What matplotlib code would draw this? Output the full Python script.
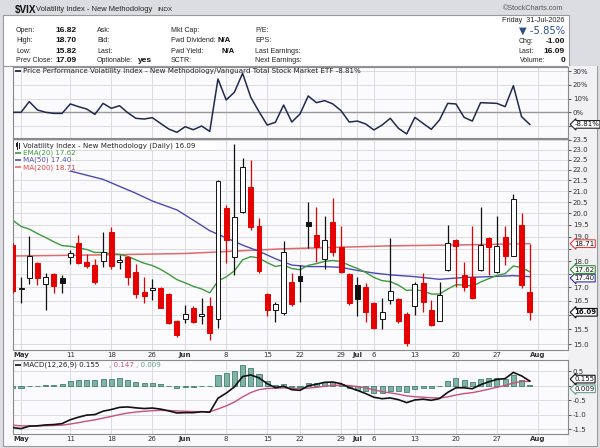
import numpy as np
import matplotlib
matplotlib.use('Agg')
import matplotlib.pyplot as plt
from matplotlib.patches import Rectangle
from matplotlib.lines import Line2D
from matplotlib.ticker import FixedLocator, NullLocator

plt.rcParams['font.family'] = ['DejaVu Sans']

# ---------------- data ----------------
# trading-day index 0 = 30-Apr-2026 ... 63 = 31-Jul-2026
tick_days = [1, 7, 12, 17, 21, 26, 31, 35, 40, 42, 44, 49, 54, 59, 64]
tick_labels = ['May', '11', '18', '26', 'Jun', '8', '15', '22', '29', 'Jul', '6', '13', '20', '27', 'Aug']
month_names = ['May', 'Jun', 'Jul', 'Aug']

opens = [18.66, 16.93, 17.34, 17.92, 17.12, 17.51, 17.34, 18.16, 18.73, 17.96,
         17.85, 18.00, 19.21, 17.97, 18.15, 17.58, 16.81, 16.90, 16.96, 16.75,
         15.79, 15.86, 16.26, 15.97, 16.32, 15.85, 20.25, 18.16, 20.05, 21.21,
         19.45, 16.75, 16.18, 16.06, 17.21, 17.44, 19.61, 19.07, 18.08, 19.64,
         18.59, 17.51, 17.09, 17.02, 16.41, 15.85, 16.53, 16.56, 16.03, 16.32,
         17.17, 16.18, 15.80, 17.66, 18.86, 17.47, 17.40, 17.66, 18.93, 17.59,
         18.97, 18.22, 19.50, 16.82]
highs = [18.75, 17.40, 19.03, 17.98, 17.53, 17.55, 17.47, 18.45, 19.06, 18.30,
         18.10, 19.21, 19.39, 18.24, 18.20, 17.90, 17.40, 17.33, 17.00, 16.80,
         15.82, 16.35, 16.30, 16.59, 16.65, 21.52, 20.37, 23.29, 22.57, 22.49,
         19.80, 16.80, 16.47, 18.80, 17.56, 17.86, 20.52, 20.30, 19.88, 20.67,
         19.43, 17.53, 17.40, 17.16, 16.45, 16.62, 18.93, 16.60, 16.11, 17.21,
         17.56, 16.53, 17.21, 19.50, 18.90, 17.99, 19.43, 20.27, 18.98, 19.88,
         19.46, 20.86, 20.00, 18.70]
lows = [16.80, 16.41, 17.12, 17.10, 16.18, 16.80, 16.78, 17.90, 17.90, 17.75,
        17.12, 17.77, 17.68, 17.68, 17.09, 16.60, 16.41, 16.53, 16.24, 15.68,
        15.23, 15.71, 15.71, 15.67, 15.14, 15.53, 17.92, 17.47, 20.00, 19.30,
        17.56, 15.96, 15.76, 16.00, 16.33, 16.47, 18.52, 17.99, 17.69, 18.22,
        17.55, 16.35, 15.96, 15.76, 15.50, 15.50, 16.40, 15.72, 14.95, 16.00,
        16.11, 15.62, 15.77, 17.60, 17.02, 16.87, 16.55, 17.60, 17.46, 17.55,
        17.86, 18.20, 16.98, 15.82]
closes = [16.86, 16.98, 18.22, 17.34, 17.40, 17.06, 17.17, 18.32, 17.95, 17.83,
          17.21, 18.36, 17.80, 18.05, 17.40, 16.75, 16.66, 16.99, 16.26, 15.71,
          15.31, 16.03, 15.76, 16.04, 15.39, 21.47, 18.86, 19.83, 22.16, 19.40,
          17.62, 16.18, 16.39, 18.39, 16.39, 17.25, 19.43, 18.56, 18.86, 18.35,
          17.59, 16.41, 16.56, 16.11, 15.53, 16.11, 16.86, 15.80, 15.03, 17.12,
          16.47, 15.65, 16.72, 18.72, 18.62, 17.02, 16.59, 18.66, 18.56, 18.62,
          18.19, 20.63, 17.09, 16.09]
prior_close = 18.90

# indicator states on the day before the window
ema20_prior = 19.99
ema12_prior = 19.16
ema26_prior = 20.52
signal_prior = -1.34

ma50_days = [0, 7, 11, 15, 17, 20, 22, 24, 26, 28, 30, 32, 34, 36, 38, 40, 42, 44, 46, 49, 52, 55, 58, 61, 63]
ma50_vals = [22.60, 21.95, 21.55, 20.90, 20.55, 20.15, 19.70, 19.25, 18.95, 18.65, 18.40, 18.10, 17.85,
             17.79, 17.79, 17.76, 17.64, 17.54, 17.47, 17.40, 17.30, 17.37, 17.40, 17.44, 17.40]
ma200_days = [0, 10, 21, 33, 46, 55, 63]
ma200_vals = [18.21, 18.25, 18.31, 18.50, 18.62, 18.66, 18.71]

rel_perf = [0.0, 0.0, 7.8, 1.7, 0.0, -0.8, -0.8, 6.1, 4.1, 2.4,
            -1.5, 6.5, 2.9, 4.8, -0.3, -4.4, -4.9, -3.9, -8.1, -12.2,
            -14.6, -10.5, -12.7, -10.0, -13.9, 24.3, 9.0, 14.6, 28.4, 10.9,
            0.5, -9.3, -7.3, 5.3, -7.1, -1.2, 11.9, 7.0, 8.5, 6.1,
            1.2, -7.1, -6.4, -8.5, -12.9, -9.3, -4.4, -11.7, -15.8, -3.7,
            -8.1, -12.4, -5.6, 6.5, 6.1, -3.7, -6.4, 7.0, 6.8, 6.5,
            4.1, 19.4, -3.2, -8.81]

price_ticks = [15.0, 15.5, 16.0, 16.5, 17.0, 17.5, 18.0, 18.5, 19.0, 19.5,
               20.0, 20.5, 21.0, 21.5, 22.0, 22.5, 23.0, 23.5]
price_tick_labels = ['15.0', '15.5', '', '16.5', '17.0', '', '18.0', '', '19.0', '19.5',
                     '20.0', '20.5', '21.0', '21.5', '22.0', '22.5', '23.0', '23.5']
rel_ticks = [-10, 0, 10, 20, 30]
rel_tick_labels = ['', '0%', '10%', '20%', '30%']
macd_ticks = [-1.5, -1.0, -0.5, 0.0, 0.5]
macd_tick_labels = ['-1.5', '-1.0', '-0.5', '', '0.5']

# ---------------- derived indicators ----------------
def ema(values, prior, n):
    a = 2.0 / (n + 1)
    out, e = [], prior
    for v in values:
        e = e + a * (v - e)
        out.append(e)
    return np.array(out)

c = np.array(closes)
ema20 = ema(c, ema20_prior, 20)
macd = ema(c, ema12_prior, 12) - ema(c, ema26_prior, 26)
signal = ema(macd, signal_prior, 9)
hist = macd - signal
days = np.arange(len(closes))

# ---------------- figure ----------------
W, H = 600, 448
fig = plt.figure(figsize=(6.0, 4.48), dpi=100, facecolor='#dcdde2')

def R(x0, y0, x1, y1, z=-10, **kw):
    fig.patches.append(Rectangle((x0 / W, 1 - y1 / H), (x1 - x0) / W, (y1 - y0) / H,
                                 transform=fig.transFigure, zorder=z, **kw))

def T(x, y, s, **kw):
    kw.setdefault('va', 'center')
    return fig.text(x / W, 1 - y / H, s, **kw)

def L(x0, x1, y, color, lw=1.2):
    fig.add_artist(Line2D([x0 / W, x1 / W], [1 - y / H, 1 - y / H], color=color, lw=lw,
                          transform=fig.transFigure, zorder=6, solid_capstyle='butt'))

# backgrounds
R(3, 15, 569, 66, fc='white', ec='#9a9a9a', lw=0.8)
R(3, 66, 597, 446, fc='#f9f9fb', ec='#9a9a9a', lw=0.8)
R(568, 66, 597, 446, fc='#f1f1f4', ec='none')

hf = ['Liberation Sans', 'DejaVu Sans']
# header
T(15, 9.5, '$VIX', fontsize=7.2, fontweight='bold', family=hf, color='#111')
T(36, 9.5, 'Volatility Index - New Methodology', fontsize=5.4, family=hf, color='#222')
T(157, 9.5, 'INDX', fontsize=4.6, family=hf, color='#222')
T(503, 8.5, '\u00a9StockCharts.com', fontsize=5.2, family=hf, color='#555')

rows = [30.5, 41, 51.2, 61]
hs = 5.0
col1 = [('Open:', '16.82'), ('High:', '18.70'), ('Low:', '15.82'), ('Prev Close:', '17.09')]
for (lab, val), y in zip(col1, rows):
    T(16, y, lab, fontsize=hs, family=hf, color='#222')
    T(55, y, val, fontsize=6.0, fontweight='bold', family=hf, color='#111')
for lab, y in zip(['Ask:', 'Bid:', 'Last:', 'Optionable:'], rows):
    T(97, y, lab, fontsize=hs, family=hf, color='#222')
T(138, rows[3], 'yes', fontsize=6.0, fontweight='bold', family=hf, color='#111')
for lab, y in zip(['Mkt Cap:', 'Fwd Dividend:', 'Fwd Yield:', 'SCTR:'], rows):
    T(171, y, lab, fontsize=hs, family=hf, color='#222')
T(217, rows[1], 'N/A', fontsize=5.6, fontweight='bold', family=hf, color='#111')
T(222, rows[2], 'N/A', fontsize=5.6, fontweight='bold', family=hf, color='#111')
for lab, y in zip(['P/E:', 'EPS:', 'Last Earnings:', 'Next Earnings:'], rows):
    T(255, y, lab, fontsize=hs, family=hf, color='#222')

T(565, 20, 'Friday  31-Jul-2026', fontsize=5.2, family=hf, color='#222', ha='right')
T(565, 31, '\u25bc -5.85%', fontsize=7.2, family=['DejaVu Sans'], color='#2c4e8c', ha='right')
T(519, 41.5, 'Chg:', fontsize=hs, family=hf, color='#222')
T(565, 41.5, '-1.00', fontsize=6.0, fontweight='bold', family=hf, color='#111', ha='right')
T(518, 51.5, 'Last:', fontsize=hs, family=hf, color='#222')
T(565, 51.5, '16.09', fontsize=6.0, fontweight='bold', family=hf, color='#111', ha='right')
T(520, 61, 'Volume:', fontsize=hs, family=hf, color='#222')
T(565, 61, '0', fontsize=6.0, fontweight='bold', family=hf, color='#111', ha='right')

# axes
x_lo, x_hi = 0.02, 67.66
ax_r = fig.add_axes([13 / W, 1 - 138.5 / H, 555 / W, 71.2 / H])
ax_p = fig.add_axes([13 / W, 1 - 350 / H, 555 / W, 211 / H])
ax_m = fig.add_axes([13 / W, 1 - 434 / H, 555 / W, 74 / H])

grid_c = '#dadbe0'
for ax in (ax_r, ax_p, ax_m):
    ax.set_facecolor('#fbfbfd')
    ax.set_xlim(x_lo, x_hi)
    for s in ax.spines.values():
        s.set_color('#8a8a8a')
        s.set_linewidth(0.8)
    ax.yaxis.tick_right()
    ax.tick_params(axis='y', which='major', length=2, width=0.6, pad=1.5,
                   labelsize=5.0, colors='#333', direction='out')
    ax.tick_params(axis='x', length=0, pad=1.5, labelsize=5.0, colors='#333')
    ax.set_xticks(tick_days)
    for d in tick_days:
        ax.axvline(d, color=grid_c, lw=0.7, zorder=0)

# ---- relative performance panel ----
ax_r.set_ylim(-19.1, 32.8)
ax_r.set_yticks(rel_ticks)
ax_r.set_yticklabels(rel_tick_labels)
ax_r.set_xticklabels([])
for v in rel_ticks:
    ax_r.axhline(v, color='#9a9a9a' if v == 0 else grid_c, lw=1.0 if v == 0 else 0.7, zorder=0)
ax_r.plot(days, rel_perf, color='#1f2a4f', lw=1.1, zorder=3)
L(15, 21, 71, '#1f2a4f', lw=1.3)
T(23, 71, 'Price Performance Volatility Index - New Methodology/Vanguard Total Stock Market ETF -8.81%',
  fontsize=5.1, color='#222', zorder=7)

def vbox(ax, y, s, ec, bold=False, z=8, dy=0.0):
    ax.annotate(s, xy=(1.0, y), xycoords=ax.get_yaxis_transform(), xytext=(4.5, dy),
                textcoords='offset points', fontsize=5.0, va='center', ha='left',
                fontweight='bold' if bold else 'normal', color='#111',
                bbox=dict(boxstyle='larrow,pad=0.12', fc='white', ec=ec, lw=0.8),
                annotation_clip=False, zorder=z)

vbox(ax_r, rel_perf[-1], '-8.81%', '#222')

# ---- price panel ----
ax_p.set_yscale('log')
ax_p.set_ylim(14.81, 23.55)
ax_p.yaxis.set_major_locator(FixedLocator(price_ticks))
ax_p.yaxis.set_minor_locator(NullLocator())
ax_p.set_yticklabels(price_tick_labels)
for v in price_ticks:
    ax_p.axhline(v, color=grid_c, lw=0.7, zorder=0)
ax_p.set_xticklabels(tick_labels)

ax_p.plot(ma200_days, ma200_vals, color='#e06a6a', lw=1.1, zorder=2)
ax_p.plot(ma50_days, ma50_vals, color='#4a4ab4', lw=1.0, zorder=2)
ax_p.plot(days, ema20, color='#3c9a3c', lw=1.0, zorder=2)

prev = [prior_close] + closes[:-1]
for i in range(len(closes)):
    o, h, l, cl = opens[i], highs[i], lows[i], closes[i]
    col = '#e60000' if cl < prev[i] else '#111111'
    ax_p.vlines(i, l, h, color=col, lw=0.9, zorder=3)
    lo, hi = min(o, cl), max(o, cl)
    if hi - lo < 0.02:
        hi = lo + 0.03
    face = 'white' if cl > o else col
    edge = '#111111' if cl > o else col
    ax_p.bar(i, hi - lo, bottom=lo, width=0.6, color=face, edgecolor=edge, linewidth=0.7, zorder=4)

vbox(ax_p, 18.71, '18.71', '#e04040')
vbox(ax_p, 17.40, '17.40', '#3030a0', dy=-1.0)
vbox(ax_p, 17.62, '17.62', '#2e8b2e', dy=1.0)
vbox(ax_p, 16.09, '16.09', '#111', bold=True)

# price legend (opaque background)
R(13.6, 140.5, 216, 149.5, z=5, fc='white', ec='none')
R(13.6, 149.5, 70, 171, z=5, fc='white', ec='none')
fig.add_artist(Line2D([16.5 / W, 16.5 / W], [1 - 142 / H, 1 - 149 / H], color='#222', lw=0.7,
                      transform=fig.transFigure, zorder=6))
R(15.5, 143.5, 17.6, 147.5, z=7, fc='#222', ec='none')
fig.add_artist(Line2D([19.3 / W, 19.3 / W], [1 - 143 / H, 1 - 148.5 / H], color='#222', lw=0.7,
                      transform=fig.transFigure, zorder=6))
T(23, 145.5, 'Volatility Index - New Methodology (Daily) 16.09', fontsize=5.1, color='#222', zorder=7)
L(15, 21, 152.8, '#3c9a3c')
T(23, 152.8, 'EMA(20) 17.62', fontsize=5.1, color='#3c9a3c', zorder=7)
L(15, 21, 160, '#4a4ab4')
T(23, 160, 'MA(50) 17.40', fontsize=5.1, color='#4a4ab4', zorder=7)
L(15, 21, 167.3, '#e06a6a')
T(23, 167.3, 'MA(200) 18.71', fontsize=5.1, color='#e04040', zorder=7)

# ---- MACD panel ----
ax_m.set_ylim(-1.666, 0.886)
ax_m.set_yticks(macd_ticks)
ax_m.set_yticklabels(macd_tick_labels)
for v in macd_ticks:
    ax_m.axhline(v, color=grid_c, lw=0.7, zorder=0)
ax_m.set_xticklabels(tick_labels)
ax_m.bar(days, hist, width=0.62, color='#7fb4a5', edgecolor='#3f7f6e', linewidth=0.6, zorder=2)
ax_m.plot(days, signal, color='#c8507c', lw=1.0, zorder=3)
ax_m.plot(days, macd, color='#111111', lw=1.2, zorder=4)
vbox(ax_m, hist[-1], '0.009', '#5fa08f', dy=-2.5)
vbox(ax_m, 0.155, '0.155', '#111', dy=1.5)

L(15, 21, 365, '#222', lw=1.3)
T(23, 365, 'MACD(12,26,9) 0.155', fontsize=5.1, color='#222', zorder=7)
T(108.5, 365, ', 0.147', fontsize=5.1, color='#c8507c', zorder=7)
T(136.5, 365, ', 0.009', fontsize=5.1, color='#5fa08f', zorder=7)

for ax in (ax_p, ax_m):
    for lab in ax.get_xticklabels():
        if lab.get_text() in month_names:
            lab.set_fontweight('bold')

fig.savefig('out.png', dpi=100, facecolor=fig.get_facecolor())
